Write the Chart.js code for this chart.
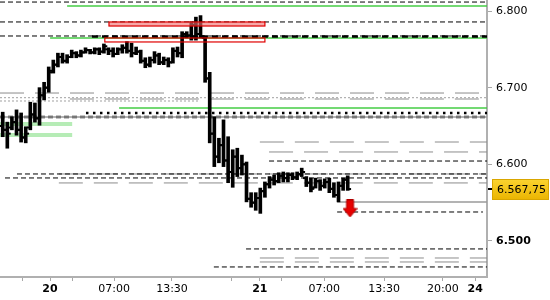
<!DOCTYPE html>
<html>
<head>
<meta charset="utf-8">
<script src="https://cdn.jsdelivr.net/npm/chart.js@4.4.1/dist/chart.umd.min.js"></script>
<style>
  html, body { margin: 0; padding: 0; background: #fff; }
  #wrap { width: 550px; height: 300px; position: relative; }
</style>
</head>
<body>
<div id="wrap"><canvas id="c"></canvas></div>
<script>
// ── 30-min OHLC bars (index = bar number) ──
const opens = [6650,6645,6648,6655,6645,6635,6648,6665,6660,6690,
  6700,6722,6730,6740,6735,6740,6745,6742,6746,6749,
  6746,6750,6747,6750,6748,6744,6750,6752,6748,6745,
  6747,6735,6730,6736,6742,6733,6736,6733,6748,6745,
  6770,6768,6782,6770,6765,6712,6640,6610,6625,6605,
  6590,6610,6595,6600,6555,6550,6556,6565,6574,6580,
  6578,6585,6582,6586,6583,6587,6582,6576,6570,6578,
  6572,6577,6568,6560,6572,6580];
const highs = [6668,6655,6662,6671,6667,6649,6681,6680,6700,6707,
  6727,6736,6745,6745,6743,6749,6747,6749,6752,6750,
  6752,6752,6757,6752,6752,6752,6756,6760,6758,6753,
  6749,6739,6740,6747,6745,6740,6739,6752,6753,6773,
  6773,6786,6792,6794,6765,6720,6662,6634,6658,6636,
  6619,6621,6612,6603,6563,6563,6569,6577,6584,6586,
  6589,6590,6589,6589,6590,6595,6584,6582,6582,6580,
  6581,6582,6576,6577,6582,6585];
const lows = [6636,6621,6645,6638,6629,6628,6645,6655,6651,6684,
  6694,6719,6727,6732,6732,6739,6739,6740,6745,6744,
  6744,6743,6745,6743,6740,6743,6745,6745,6740,6743,
  6732,6726,6727,6732,6730,6730,6727,6732,6740,6739,
  6765,6762,6762,6765,6707,6628,6597,6602,6597,6576,
  6570,6584,6586,6551,6544,6540,6536,6557,6569,6573,
  6576,6577,6577,6580,6580,6584,6571,6564,6569,6566,
  6569,6563,6557,6551,6566,6566];
const closes = [6645,6640,6655,6645,6635,6640,6665,6660,6690,6700,
  6720,6730,6740,6735,6740,6745,6742,6746,6749,6746,
  6750,6747,6754,6748,6744,6750,6752,6748,6745,6747,
  6735,6730,6736,6742,6733,6736,6733,6748,6745,6770,
  6768,6782,6770,6767,6712,6640,6610,6625,6605,6590,
  6610,6595,6600,6555,6550,6556,6565,6574,6580,6578,
  6585,6582,6586,6583,6587,6590,6576,6568,6578,6572,
  6577,6568,6560,6572,6580,6567.75];

// ── axes ──
const xMin = -0.59, xMax = 105.28;
const yMin = 6453, yMax = 6814.35;
const xTickPos = [4.2, 10.28, 15.07, 24.2, 36.8, 49.8, 55.9, 60.7, 69.9, 82.9, 95.7, 102.7];
const xTickLabels = ['', '20', '', '07:00', '13:30', '', '21', '', '07:00', '13:30', '20:00', '24'];
const xBold = ['20', '21', '24'];
const yTicks = [6500, 6600, 6700, 6800];
const yBold = [6500];

// ── horizontal levels: price, from bar, to bar, kind ──
const levelPrice = [6811.7, 6806.5, 6785.7, 6767.4, 6766.7, 6764.8, 6693.0, 6686.9, 6685.2, 6682.6,
  6673.5, 6667.0, 6661.7, 6661.7, 6652.6, 6638.3, 6629.1, 6616.1, 6604.3, 6587.4,
  6587.4, 6582.2, 6575.7, 6550.9, 6537.8, 6489.6, 6477.8, 6472.6, 6466.1];
const levelFrom = [xMin, 14.0, xMin, xMin, 19.4, 10.3, xMin, xMin, 14.6, xMin,
  25.3, 18.1, xMin, xMin, xMin, xMin, 55.9, 57.9, 57.9, 3.1,
  12.2, 0.5, 12.2, 72.7, 72.7, 52.9, 55.9, 55.9, 45.9];
const levelTo = [xMax, xMax, xMax, xMax, xMax, xMax, xMax, xMax, xMax, 42.9,
  xMax, xMax, xMax, xMax, 15.1, 15.1, xMax, xMax, xMax, xMax,
  xMax, xMax, xMax, xMax, 104.4, xMax, xMax, xMax, xMax];
const levelKind = ['dash', 'green', 'dash', 'dash', 'dashBold', 'green', 'grayDash', 'grayDot', 'grayDash', 'grayDot',
  'green', 'blackDot', 'graySolid', 'dashHeavy', 'lightGreen', 'lightGreen', 'grayDash', 'grayDash', 'dash', 'dash',
  'grayDash', 'dash', 'grayDash', 'graySolid', 'dash', 'dash', 'grayDash', 'grayDash', 'dash'];

// ── zones ──
const zoneTop = [6785.7, 6764.8];
const zoneBottom = [6780.4, 6759.6];
const zoneFrom = [23.1, 22.2];
const zoneTo = [57.0, 57.0];
const zoneKind = ['filled', 'outline'];

// ── sell signal ──
const signalIdx = 75.5, signalPrice = 6542.4;
const lastPrice = closes[closes.length - 1];

const FONT = "'DejaVu Sans', Verdana, sans-serif";

const STYLES = {
  dash:       { color: '#000', width: 1, dash: [5, 3] },
  dashBold:   { color: '#000', width: 2.5, dash: [6, 4] },
  dashHeavy:  { color: '#111', width: 2.5, dash: [5, 3] },
  green:      { color: '#44cc44', width: 1.5, dash: [] },
  grayDash:   { color: '#8c8c8c', width: 1, dash: [24, 11] },
  grayDot:    { color: '#a0a0a0', width: 1, dash: [2, 2] },
  blackDot:   { color: '#000', width: 2.5, dash: [2.5, 4.5] },
  graySolid:  { color: '#9a9a9a', width: 1.5, dash: [] },
  lightGreen: { color: '#b6ecb6', width: 4, dash: [] },
};

const fmtInt = v => String(Math.round(v)).replace(/\B(?=(\d{3})+(?!\d))/g, '.');
const fmtPrice = v => { const [i, d] = v.toFixed(2).split('.'); return fmtInt(+i) + ',' + d; };

function arrowImg() {
  const c = document.createElement('canvas');
  c.width = 15; c.height = 18;
  const g = c.getContext('2d');
  g.fillStyle = '#e60000'; g.strokeStyle = '#b00000'; g.lineWidth = 1;
  g.beginPath();
  g.moveTo(4, 0.5); g.lineTo(11, 0.5); g.lineTo(11, 9); g.lineTo(14.5, 9);
  g.lineTo(7.5, 17.5); g.lineTo(0.5, 9); g.lineTo(4, 9); g.closePath();
  g.fill(); g.stroke();
  return c;
}

const levelSets = levelPrice.map((p, i) => {
  const s = STYLES[levelKind[i]];
  return {
    type: 'line', order: 10,
    data: [{ x: levelFrom[i], y: p }, { x: levelTo[i], y: p }],
    borderColor: s.color, borderWidth: s.width, borderDash: s.dash,
    pointRadius: 0, fill: false, tension: 0,
  };
});

const zonePlugin = {
  id: 'zones',
  afterDatasetsDraw(chart) {
    const { ctx, scales: { x, y } } = chart;
    ctx.save();
    zoneTop.forEach((t, i) => {
      const x1 = x.getPixelForValue(zoneFrom[i]), x2 = x.getPixelForValue(zoneTo[i]);
      const y1 = y.getPixelForValue(t), y2 = y.getPixelForValue(zoneBottom[i]);
      if (zoneKind[i] === 'filled') {
        ctx.fillStyle = 'rgba(240,110,110,0.6)';
        ctx.fillRect(x1, y1, x2 - x1, y2 - y1);
      }
      ctx.strokeStyle = '#e00000'; ctx.lineWidth = 1.2;
      ctx.strokeRect(x1, y1, x2 - x1, y2 - y1);
    });
    ctx.restore();
  }
};

const priceTag = {
  id: 'priceTag',
  afterDraw(chart) {
    const { ctx, scales: { y }, chartArea } = chart;
    const py = Math.round(y.getPixelForValue(lastPrice));
    ctx.save();
    ctx.fillStyle = '#000';
    ctx.fillRect(chartArea.right + 1, py - 1, 6, 2);
    const bx = chartArea.right + 5, bw = 57, bh = 21, by = py - 10;
    const grad = ctx.createLinearGradient(0, by, 0, by + bh);
    grad.addColorStop(0, '#fbd431'); grad.addColorStop(1, '#eab400');
    ctx.fillStyle = grad;
    ctx.fillRect(bx, by, bw, bh);
    ctx.strokeStyle = '#d9a600'; ctx.lineWidth = 1;
    ctx.strokeRect(bx + 0.5, by + 0.5, bw - 1, bh - 1);
    ctx.fillStyle = '#000';
    ctx.font = '11px ' + FONT;
    ctx.textBaseline = 'middle';
    ctx.fillText(fmtPrice(lastPrice), bx + 5, py + 1);
    ctx.restore();
  }
};

new Chart(document.getElementById('c'), {
  type: 'bar',
  data: {
    datasets: [
      {
        type: 'bar', order: 1,
        data: highs.map((h, i) => ({ x: i, y: [lows[i], h] })),
        backgroundColor: '#000', borderWidth: 0, barThickness: 3, grouped: false,
      },
      {
        type: 'scatter', order: 0,
        data: opens.map((o, i) => ({ x: i - 0.45, y: o })),
        pointStyle: 'line', pointRadius: 1.3, borderColor: '#000', borderWidth: 2,
      },
      {
        type: 'scatter', order: 0,
        data: closes.map((c, i) => ({ x: i + 0.45, y: c })),
        pointStyle: 'line', pointRadius: 1.3, borderColor: '#000', borderWidth: 2,
      },
      {
        type: 'scatter', order: 0,
        data: [{ x: signalIdx, y: signalPrice }],
        pointStyle: arrowImg(), pointRadius: 8,
      },
      ...levelSets,
    ]
  },
  options: {
    responsive: true, maintainAspectRatio: false, animation: false, events: [],
    layout: { padding: 0, autoPadding: false },
    plugins: { legend: { display: false }, tooltip: { enabled: false } },
    scales: {
      x: {
        type: 'linear', min: xMin, max: xMax, offset: false,
        afterBuildTicks: a => { a.ticks = xTickPos.map(v => ({ value: v })); },
        afterFit: a => { a.height = 23; a.paddingLeft = 0; a.paddingRight = 0; },
        grid: { drawOnChartArea: false, offset: false, tickLength: 4, color: '#a8a8a8', lineWidth: 1 },
        border: { color: '#b0b0b0', width: 2 },
        ticks: {
          autoSkip: false, maxRotation: 0, padding: 2, color: '#000',
          callback: (v, i) => xTickLabels[i],
          font: ctx => ({ family: FONT, size: 11, weight: xBold.includes(ctx.tick && ctx.tick.label) ? 'bold' : 'normal' }),
        },
      },
      y: {
        type: 'linear', position: 'right', min: yMin, max: yMax,
        afterBuildTicks: a => { a.ticks = yTicks.map(v => ({ value: v })); },
        afterFit: a => { a.width = 63; a.paddingTop = 0; a.paddingBottom = 0; },
        grid: { drawOnChartArea: false, tickLength: 5, color: '#a8a8a8', lineWidth: 1 },
        border: { color: '#b0b0b0', width: 2 },
        ticks: {
          padding: 4, color: '#000',
          callback: v => fmtInt(v),
          font: ctx => ({ family: FONT, size: 11, weight: yBold.includes(ctx.tick && ctx.tick.value) ? 'bold' : 'normal' }),
        },
      },
    },
  },
  plugins: [zonePlugin, priceTag],
});
</script>
</body>
</html>
